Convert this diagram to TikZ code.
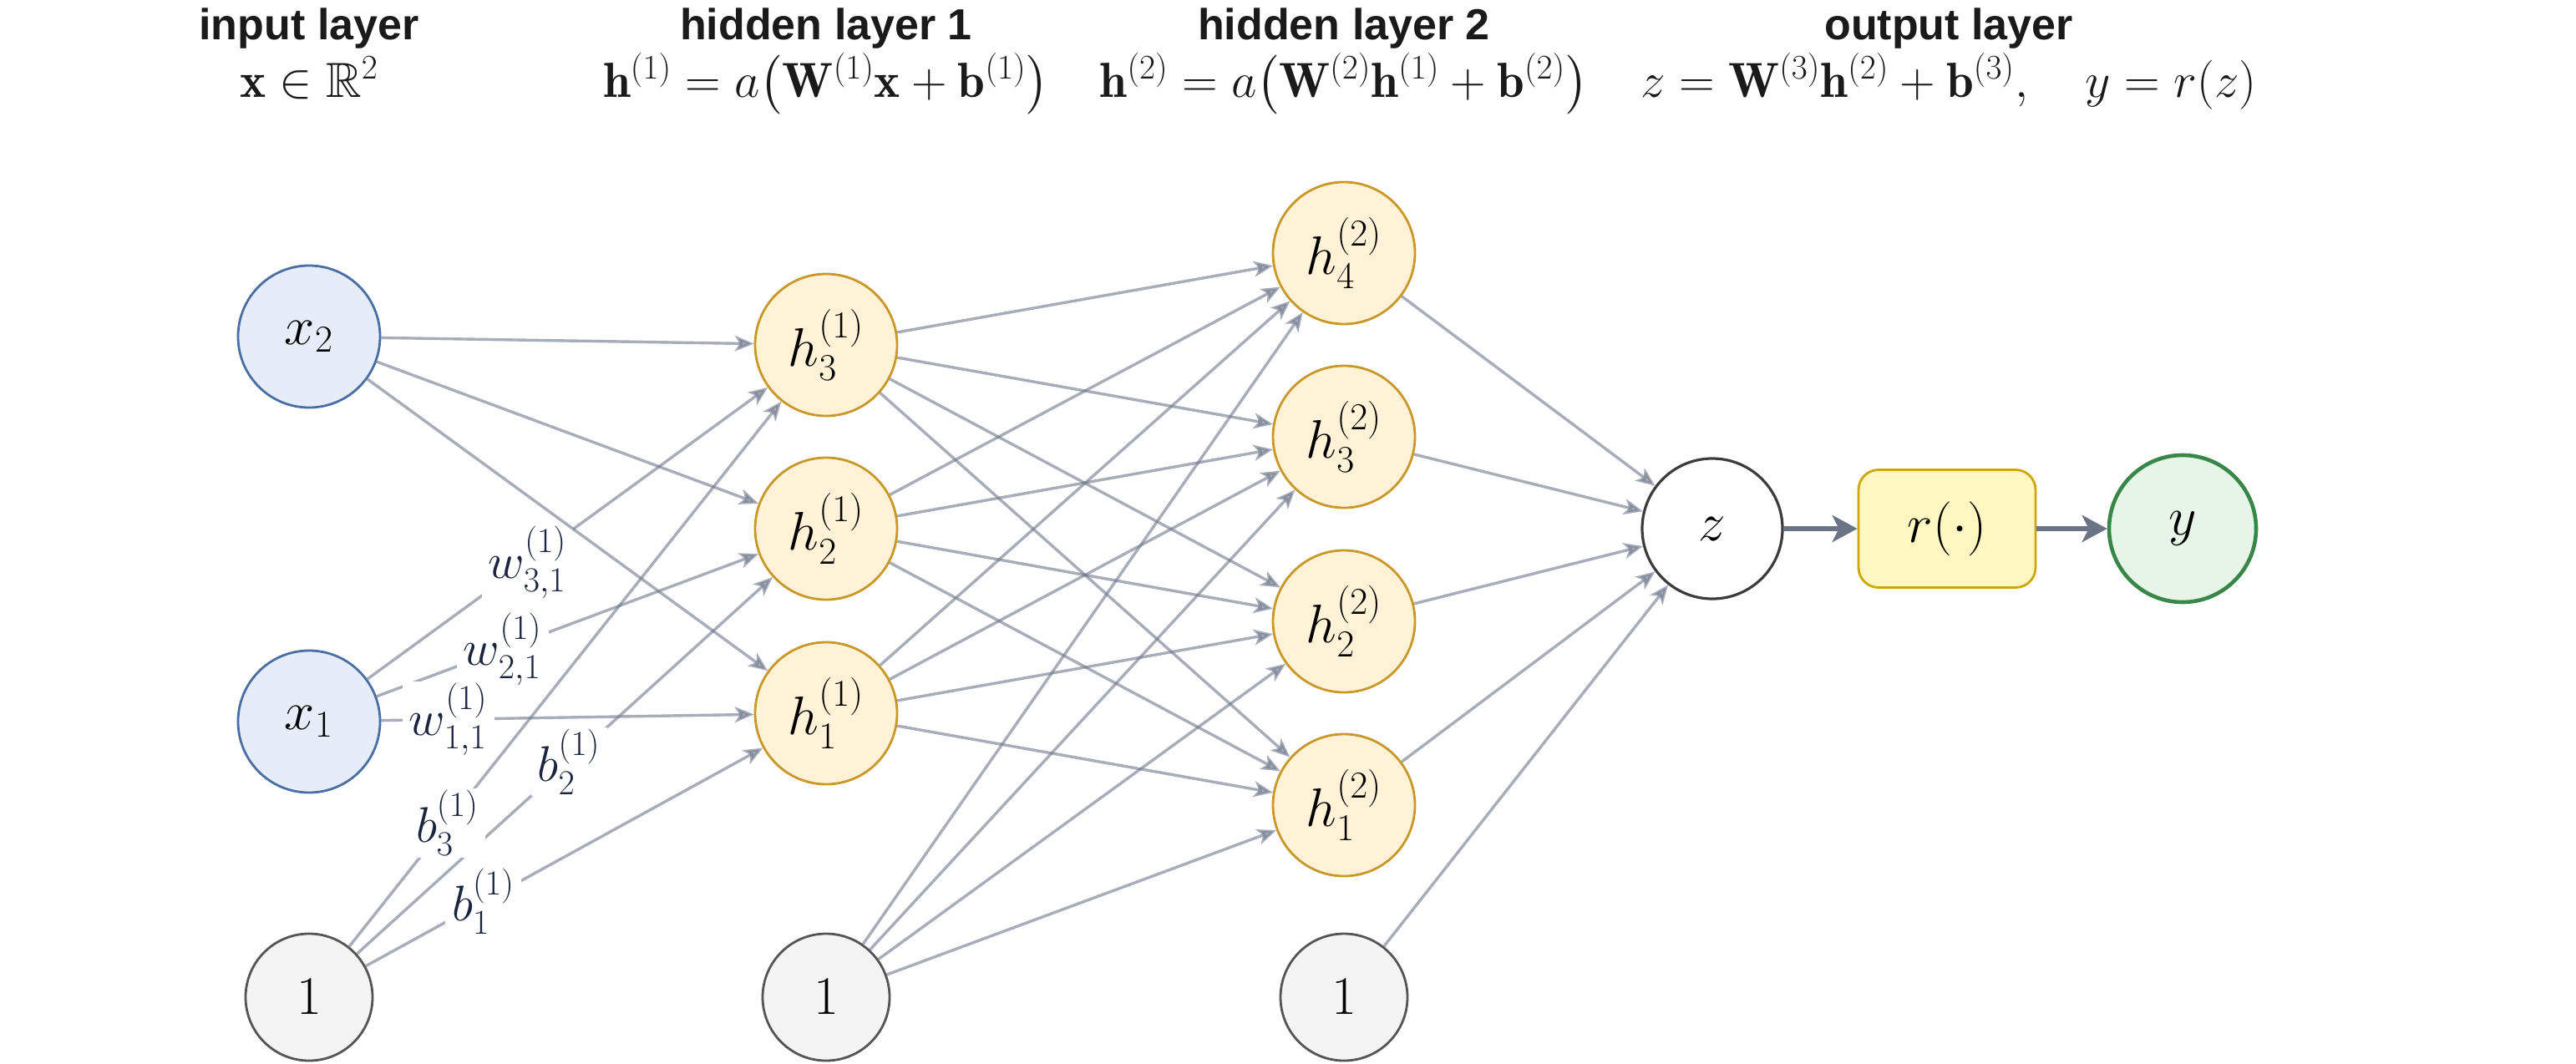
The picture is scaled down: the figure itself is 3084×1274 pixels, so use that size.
\documentclass[tikz,border=0pt]{standalone}
\usepackage{fix-cm}
\usepackage{amsmath,amssymb}
\usepackage{fontspec}
\newfontfamily\titlefont{Liberation Sans}
\usetikzlibrary{arrows.meta}
\definecolor{xfill}{RGB}{230,237,248}
\definecolor{xdraw}{RGB}{74,111,165}
\definecolor{hfill}{RGB}{255,242,214}
\definecolor{hdraw}{RGB}{201,152,40}
\definecolor{bfill}{RGB}{244,244,244}
\definecolor{bdraw}{RGB}{85,85,85}
\definecolor{zdraw}{RGB}{60,60,60}
\definecolor{rfill}{RGB}{255,247,194}
\definecolor{rdraw}{RGB}{204,168,0}
\definecolor{yfill}{RGB}{230,245,232}
\definecolor{ydraw}{RGB}{56,135,72}
\definecolor{edgec}{RGB}{110,118,138}
\definecolor{thickc}{RGB}{107,115,134}
\definecolor{labc}{RGB}{27,37,64}
\definecolor{ttlc}{RGB}{26,26,26}
\tikzset{
  neuron/.style={circle, inner sep=0pt, minimum size=85pt, line width=1.4pt, text=black, font=\fontsize{32.5}{38}\selectfont},
  inp/.style={neuron, draw=xdraw, fill=xfill},
  hid/.style={neuron, draw=hdraw, fill=hfill},
  biasn/.style={neuron, minimum size=76pt, draw=bdraw, fill=bfill},
  zn/.style={neuron, minimum size=84pt, draw=zdraw, fill=white, line width=1.6pt},
  yn/.style={neuron, minimum size=88pt, draw=ydraw, fill=yfill, line width=2.3pt},
  rbox/.style={rectangle, rounded corners=12pt, minimum width=106pt, minimum height=70.5pt, inner sep=0pt, draw=rdraw, fill=rfill, line width=1.4pt, font=\fontsize{32.5}{38}\selectfont},
  conn/.style={draw=edgec, draw opacity=0.6, fill opacity=0.6, line width=1.7pt, -{Stealth[length=11.5pt,width=9.5pt,inset=3pt]}},
  thickconn/.style={draw=thickc, line width=3pt, -{Stealth[length=15pt,width=16pt,inset=4pt]}},
  lab/.style={fill=white, fill opacity=1, text opacity=1, inner xsep=4pt, inner ysep=1pt, text=labc, font=\fontsize{30}{36}\selectfont},
  ttl/.style={anchor=base, inner sep=0pt, text=ttlc, font=\titlefont\bfseries\fontsize{26}{30}\selectfont},
  eqn/.style={anchor=base, inner sep=0pt, text=ttlc, font=\fontsize{29.5}{34}\selectfont}
}
\begin{document}
\begin{tikzpicture}[x=0.5pt, y=-0.5pt]
\path[use as bounding box] (0,0) rectangle (3084,1274);

% titles
\node[ttl] (t1) at (370,47) {input layer};
\node[eqn] (e1) at (370,116) {$\mathbf{x}\in\mathbb{R}^2$};
\node[ttl] (t2) at (989,47) {hidden layer 1};
\node[eqn] (e2) at (989,116) {$\mathbf{h}^{(1)}=a\bigl(\mathbf{W}^{(1)}\mathbf{x}+\mathbf{b}^{(1)}\bigr)$};
\node[ttl] (t3) at (1609,47) {hidden layer 2};
\node[eqn] (e3) at (1609,116) {$\mathbf{h}^{(2)}=a\bigl(\mathbf{W}^{(2)}\mathbf{h}^{(1)}+\mathbf{b}^{(2)}\bigr)$};
\node[ttl] (t4) at (2333,47) {output layer};
\node[eqn] (e4) at (2333,116) {$z=\mathbf{W}^{(3)}\mathbf{h}^{(2)}+\mathbf{b}^{(3)},\quad y=r(z)$};

% nodes
\node[inp] (x2) at (370,403) {$x_2$};
\node[inp] (x1) at (370,864) {$x_1$};
\node[biasn] (bA) at (370,1194) {$1$};

\node[hid] (ha3) at (989,413) {$h^{(1)}_3$};
\node[hid] (ha2) at (989,633) {$h^{(1)}_2$};
\node[hid] (ha1) at (989,854) {$h^{(1)}_1$};
\node[biasn] (bB) at (989,1194) {$1$};

\node[hid] (hb4) at (1609,303) {$h^{(2)}_4$};
\node[hid] (hb3) at (1609,523) {$h^{(2)}_3$};
\node[hid] (hb2) at (1609,744) {$h^{(2)}_2$};
\node[hid] (hb1) at (1609,964) {$h^{(2)}_1$};
\node[biasn] (bC) at (1609,1194) {$1$};

\node[zn] (z) at (2050,633) {$z$};
\node[rbox] (r) at (2331,633) {$r(\cdot)$};
\node[yn] (y) at (2613,633) {$y$};

% hidden layer 1 -> hidden layer 2
\foreach \s in {ha3,ha2,ha1,bB}{
  \foreach \t in {hb4,hb3,hb2,hb1}{
    \draw[conn] (\s) -- (\t);
  }
}
% hidden layer 2 -> z
\foreach \s in {hb4,hb3,hb2,hb1,bC}{
  \draw[conn] (\s) -- (z);
}
% labelled edges: each label hides only its own line
\draw[conn] (x1) -- node[lab, pos=0.33] (lw21) {$w^{(1)}_{2,1}$} (ha2);
\draw[conn] (x1) -- node[lab, pos=0.18] (lw11) {$w^{(1)}_{1,1}$} (ha1);
\draw[conn] (bA) -- node[lab, pos=0.296] (lb1) {$b^{(1)}_1$} (ha1);
\draw[conn] (bA) -- node[lab, pos=0.51] (lb2) {$b^{(1)}_2$} (ha2);
\draw[conn] (bA) -- node[lab, pos=0.227] (lb3) {$b^{(1)}_3$} (ha3);
\draw[conn] (x1) -- node[lab, pos=0.40] (lw31) {$w^{(1)}_{3,1}$} (ha3);
% input x2 edges
\draw[conn] (x2) -- (ha3);
\draw[conn] (x2) -- (ha2);
\draw[conn] (x2) -- (ha1);

% output
\draw[thickconn] (z) -- (r);
\draw[thickconn] (r) -- (y);
\end{tikzpicture}
\end{document}
